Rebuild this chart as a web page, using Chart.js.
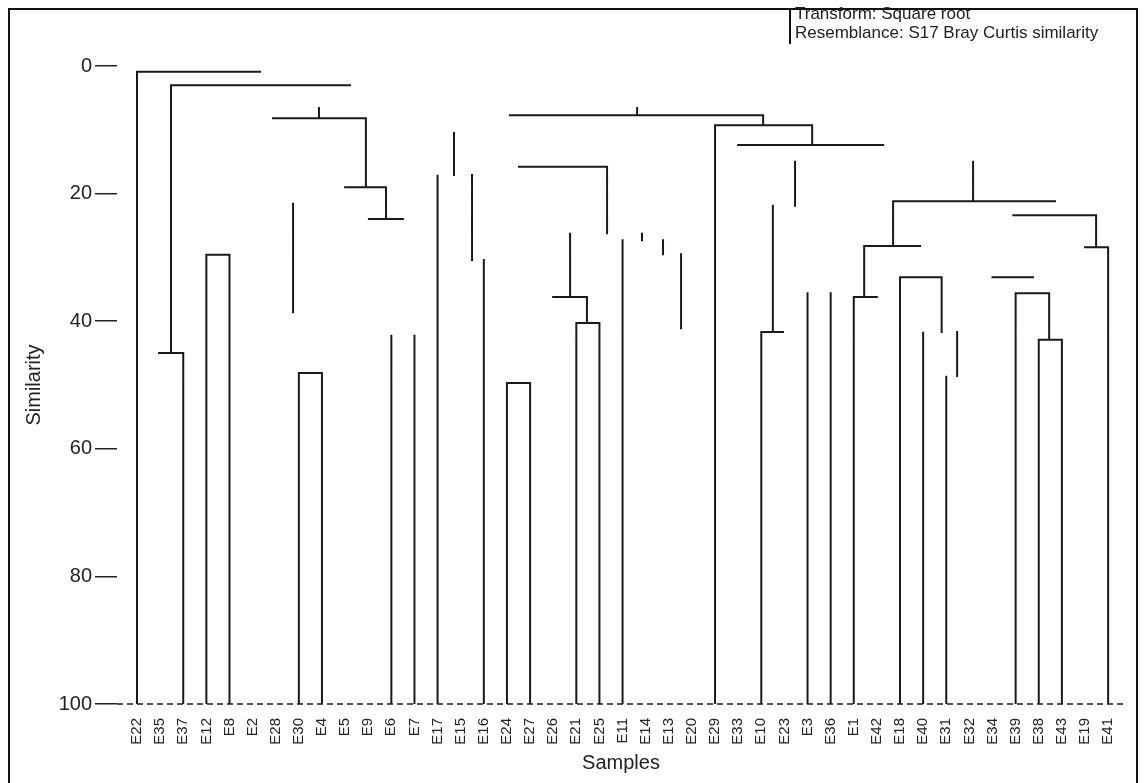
<!DOCTYPE html>
<html>
<head>
<meta charset="utf-8">
<title>Dendrogram</title>
<script src="https://cdn.jsdelivr.net/npm/chart.js@4.4.1/dist/chart.umd.min.js"></script>
<style>
  html, body { margin: 0; padding: 0; background: #fff; }
  #wrap { width: 1146px; height: 783px; }
</style>
</head>
<body>
<div id="wrap"><canvas id="dendro" width="1146" height="783"></canvas></div>
<script>
// ********* Data *********

const sampleLabels = ['E22','E35','E37','E12','E8','E2','E28','E30','E4','E5','E9','E6','E7',
  'E17','E15','E16','E24','E27','E26','E21','E25','E11','E14','E13','E20','E29','E33','E10',
  'E23','E3','E36','E1','E42','E18','E40','E31','E32','E34','E39','E38','E43','E19','E41'];

const yTicks = [0, 20, 40, 60, 80, 100];

// vertical links: [sample position, top similarity, bottom similarity]
const vLinks = [
  [0, 0.9, 100], [1.47, 3.0, 45.0], [2, 45.0, 100], [3, 29.6, 100], [4, 29.6, 100],
  [7.87, 6.6, 8.2], [9.9, 8.2, 19.0], [10.77, 19.0, 24.0], [6.75, 21.6, 38.6],
  [7, 48.1, 100], [8, 48.1, 100], [11, 42.3, 100], [12, 42.3, 100], [13, 17.2, 100],
  [13.71, 10.5, 17.1], [14.49, 17.1, 30.4], [15, 30.4, 100], [16, 49.7, 100], [17, 49.7, 100],
  [20.33, 15.8, 26.2], [18.73, 26.3, 36.2], [19.46, 36.2, 40.3], [19, 40.3, 100], [20, 40.3, 100],
  [21, 27.3, 100], [21.84, 26.3, 27.3], [22.75, 27.3, 29.5], [23.53, 29.5, 41.1],
  [21.63, 6.6, 7.7], [27.08, 7.7, 9.3], [25, 9.3, 100], [29.2, 9.3, 12.4],
  [28.46, 15.0, 21.9], [27.5, 21.9, 41.7], [27, 41.7, 100], [29, 35.6, 100], [30, 35.6, 100],
  [31, 36.2, 100], [31.45, 28.2, 36.2], [32.7, 21.2, 28.2], [36.16, 15.0, 21.2],
  [33, 33.1, 100], [34.8, 33.1, 41.7], [34, 41.8, 100], [35.47, 41.7, 48.6], [35, 48.7, 100],
  [38, 35.6, 100], [39.45, 35.6, 42.9], [39, 43.0, 100], [40, 42.9, 100],
  [41.48, 23.4, 28.4], [42, 28.4, 100]
];

// horizontal links: [similarity, left position, right position]
const hLinks = [
  [0.9, 0, 5.32], [3.0, 1.47, 9.21], [45.0, 0.95, 2], [29.6, 3, 4], [8.2, 5.88, 9.9],
  [19.0, 9.0, 10.77], [24.0, 10.03, 11.5], [48.1, 7, 8], [49.7, 16, 17],
  [15.8, 16.52, 20.33], [36.2, 18.0, 19.46], [40.3, 19, 20], [7.7, 16.13, 27.08],
  [9.3, 25, 29.2], [12.4, 26.0, 32.27], [41.7, 27, 27.94], [21.2, 32.7, 39.7],
  [28.2, 31.45, 33.87], [36.2, 31.0, 32.0], [33.1, 33, 34.8], [33.1, 37.0, 38.75],
  [35.6, 38, 39.45], [42.9, 39, 40], [23.4, 37.9, 41.48], [28.4, 41.0, 42]
];

const legendLines = ['Transform: Square root', 'Resemblance: S17 Bray Curtis similarity'];

// ********* Build line points (null breaks the line) *********

let points = [];
vLinks.forEach(v => {
  points.push({x: v[0], y: v[1]}, {x: v[0], y: v[2]}, {x: v[0], y: null});
});
hLinks.forEach(h => {
  points.push({x: h[1], y: h[0]}, {x: h[2], y: h[0]}, {x: h[2], y: null});
});

// ********* Frame, dashed baseline + info box *********

const framePlugin = {
  id: 'frame',
  beforeDatasetsDraw(chart) {
    const ctx = chart.ctx;
    const area = chart.chartArea;
    const yBase = chart.scales.y.getPixelForValue(100);
    ctx.save();
    ctx.strokeStyle = '#1a1a1a';
    ctx.lineWidth = 1.3;
    ctx.setLineDash([6, 4]);
    ctx.beginPath();
    ctx.moveTo(area.left, yBase);
    ctx.lineTo(area.right, yBase);
    ctx.stroke();
    ctx.restore();
  },
  afterDraw(chart) {
    const ctx = chart.ctx;
    ctx.save();
    ctx.strokeStyle = '#111';
    ctx.lineWidth = 2;
    ctx.strokeRect(9, 9, 1128, 800);

    ctx.beginPath();
    ctx.moveTo(790, 9);
    ctx.lineTo(790, 44);
    ctx.stroke();

    ctx.fillStyle = '#222';
    ctx.font = '17px "Liberation Sans", Arial, sans-serif';
    ctx.textBaseline = 'middle';
    ctx.fillText(legendLines[0], 795, 14);
    ctx.fillText(legendLines[1], 795, 33);
    ctx.restore();
  }
};

const font = '"Liberation Sans", Arial, sans-serif';

let myChart = document.getElementById('dendro').getContext('2d');
let dendro = new Chart(myChart, {
  type: 'scatter',
  data: {
    datasets: [{
      data: points,
      showLine: true,
      spanGaps: false,
      borderColor: '#1a1a1a',
      borderWidth: 2,
      borderCapStyle: 'square',
      pointRadius: 0
    }]
  },
  options: {
    responsive: false,
    animation: false,
    layout: { padding: { left: 0, top: 66, right: 21, bottom: 0 } },
    plugins: {
      legend: { display: false },
      tooltip: { enabled: false }
    },
    scales: {
      x: {
        type: 'linear',
        min: -0.865,
        max: 42.73,
        afterBuildTicks: axis => { axis.ticks = sampleLabels.map((s, i) => ({value: i})); },
        afterFit: axis => { axis.height = 79; },
        ticks: {
          autoSkip: false,
          minRotation: 90,
          maxRotation: 90,
          padding: 6,
          color: '#222',
          font: { family: font, size: 15 },
          callback: value => sampleLabels[value]
        },
        grid: { display: false },
        border: { display: false },
        title: {
          display: true,
          text: 'Samples',
          color: '#222',
          font: { family: font, size: 20 },
          padding: { top: 0, bottom: 8 }
        }
      },
      y: {
        reverse: true,
        min: 0,
        max: 100,
        afterBuildTicks: axis => { axis.ticks = yTicks.map(v => ({value: v})); },
        afterFit: axis => { axis.width = 117; },
        ticks: {
          padding: 3,
          color: '#222',
          font: { family: font, size: 20 }
        },
        grid: { drawOnChartArea: false, tickLength: 22, color: '#222', lineWidth: 1.5 },
        border: { display: false },
        title: {
          display: true,
          text: 'Similarity',
          color: '#222',
          font: { family: font, size: 20 },
          padding: { top: 22, bottom: 0 }
        }
      }
    }
  },
  plugins: [framePlugin]
});
</script>
</body>
</html>
